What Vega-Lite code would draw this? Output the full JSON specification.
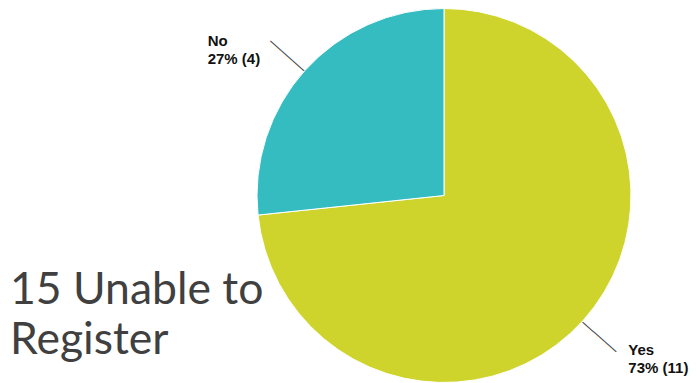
{
  "$schema": "https://vega.github.io/schema/vega-lite/v6.json",
  "width": 376,
  "height": 375,
  "autosize": {"type": "none"},
  "padding": {"left": 256, "top": 8, "right": 65, "bottom": 0},
  "background": "white",
  "title": {
    "text": ["15 Unable to", "Register"],
    "orient": "top",
    "anchor": "start",
    "frame": "group",
    "font": "Lato",
    "fontSize": 44.5,
    "fontWeight": "normal",
    "color": "#404040",
    "lineHeight": 50,
    "baseline": "alphabetic",
    "offset": 0,
    "dx": -246,
    "dy": 392
  },
  "data": {
    "values": [
      {"answer": "Yes", "count": 11, "rank": 1, "caption": "Yes\n73% (11)"},
      {"answer": "No", "count": 4, "rank": 2, "caption": "No\n27% (4)"}
    ]
  },
  "encoding": {
    "theta": {"field": "count", "type": "quantitative", "stack": true},
    "order": {"field": "rank", "type": "quantitative"}
  },
  "layer": [
    {
      "mark": {"type": "arc", "outerRadius": 187, "stroke": "white", "strokeWidth": 1},
      "encoding": {
        "color": {
          "field": "answer",
          "type": "nominal",
          "scale": {"domain": ["Yes", "No"], "range": ["#CED42B", "#34BCC0"]},
          "legend": null
        }
      }
    },
    {
      "mark": {"type": "text", "radius": 210, "text": "———", "font": "Liberation Sans", "fontSize": 15, "angle": 41.4, "color": "#444444", "align": "center", "baseline": "middle"},
      "encoding": {}
    },
    {
      "mark": {"type": "text", "radius": 240, "align": "left", "baseline": "alphabetic", "dx": -58, "dy": 11, "font": "Liberation Sans", "fontWeight": "bold", "fontSize": 15, "lineBreak": "\n", "lineHeight": 18, "color": "#111111"},
      "encoding": {
        "text": {"field": "caption"},
        "opacity": {"condition": {"test": "datum.answer == 'No'", "value": 1}, "value": 0}
      }
    },
    {
      "mark": {"type": "text", "radius": 240, "align": "left", "baseline": "alphabetic", "dx": 6, "dy": -1, "font": "Liberation Sans", "fontWeight": "bold", "fontSize": 15, "lineBreak": "\n", "lineHeight": 18, "color": "#111111"},
      "encoding": {
        "text": {"field": "caption"},
        "opacity": {"condition": {"test": "datum.answer == 'Yes'", "value": 1}, "value": 0}
      }
    }
  ]
}
